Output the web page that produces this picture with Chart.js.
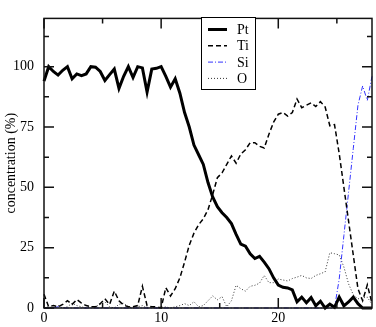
<!DOCTYPE html>
<html>
<head>
<meta charset="utf-8">
<script src="https://cdn.jsdelivr.net/npm/chart.js@4.4.1/dist/chart.umd.min.js"></script>
<style>
  html, body { margin: 0; padding: 0; background: #fff; }
</style>
</head>
<body>
<canvas id="concentration" width="376" height="327"></canvas>
<script>
// depth positions shared by all four profiles
var depth = [0, 0.4, 0.8, 1.2, 1.6, 2, 2.4, 2.8, 3.2, 3.6,
  4, 4.4, 4.8, 5.2, 5.6, 6, 6.4, 6.8, 7.2, 7.6,
  8, 8.4, 8.8, 9.2, 9.6, 10, 10.4, 10.8, 11.2, 11.6,
  12, 12.4, 12.8, 13.2, 13.6, 14, 14.4, 14.8, 15.2, 15.6,
  16, 16.4, 16.8, 17.2, 17.6, 18, 18.4, 18.8, 19.2, 19.6,
  20, 20.4, 20.8, 21.2, 21.6, 22, 22.4, 22.8, 23.2, 23.6,
  24, 24.4, 24.8, 25.2, 25.6, 26, 26.4, 26.8, 27.2, 27.6, 28];

var pt = [94, 100, 98, 96.5, 98.5, 100, 95, 97, 96.3, 97,
  100, 99.8, 98, 94.3, 96.7, 99, 91, 96, 100, 95.5,
  100, 99.5, 89.5, 99, 99.3, 100, 96, 91.5, 95, 89,
  81, 75, 67.5, 63.5, 59.5, 52, 46, 42, 39.5, 37.5,
  35, 30.5, 26.5, 25.6, 22.5, 20.5, 21.4, 19, 16.3, 12.5,
  9.5, 8.6, 8.3, 7.5, 2.6, 4.5, 2.2, 4.3, 0.9, 2.8,
  0, 1.6, 0.3, 4.5, 0.9, 2.5, 4.5, 1.8, 0, 0, 0];

var ti = [5.7, 0.5, 1, 0.5, 1.5, 3, 1.5, 3.5, 2, 1,
  0.5, 0.5, 1.8, 3.8, 1.5, 7, 3, 1.2, 0.5, 0.5,
  1, 9, 1, 0.5, 0.5, 0, 8.4, 5, 8, 12.5,
  19, 26, 31, 34.5, 37, 40.7, 47, 54, 56, 59.5,
  63, 60, 63.8, 65.6, 68.5, 68.5, 67, 66.3, 72, 77,
  80.3, 81, 79.5, 81, 86.6, 83, 84, 85, 83.5, 85.5,
  83.3, 75.5, 76, 64, 50, 36, 22, 8, 3, 9.6, 2];

var si = [0, 0, 0, 0.5, 0, 0, 0, 0, 0, 0,
  0, 0, 0, 0, 0, 0, 0, 0, 0, 0,
  0, 0, 0, 0, 0, 0, 0, 0, 0, 0,
  0, 0, 0, 0, 0, 0, 0, 0, 0, 0,
  0, 0, 0, 0, 0, 0, 0, 0, 0, 0,
  0, 0, 0, 0, 0, 0, 0, 0, 0, 0,
  0, 0, 0, 12, 30, 48, 66, 84, 92, 86, 96];

var ox = [0, 0.5, 0, 1, 0, 0.5, 2, 1, 0.5, 0,
  0.5, 0.5, 1.5, 2.5, 0.5, 0, 1.5, 2, 0.5, 0,
  0.5, 1, 0, 0.5, 0, 0, 0.5, 0, 0.5, 1,
  1.8, 1, 2.6, 0.5, 1, 3, 5, 3.4, 4.7, 0.5,
  3, 9.4, 8, 7, 9, 9.4, 10.3, 13.5, 10.5, 10.5,
  12, 11.6, 11.2, 12.2, 12.8, 13.5, 12.5, 12.2, 13.5, 14.2,
  15, 22.9, 22.5, 22, 17, 10, 5.5, 3.8, 4.2, 4.5, 1.5];

var xMajor = [0, 10, 20];
var xMinor = [5, 15, 25];
var yMajor = [0, 25, 50, 75, 100];
var yMinor = [12.5, 37.5, 62.5, 87.5, 112.5];

var serif = "'Liberation Serif', 'DejaVu Serif', serif";

function pairs(ys) {
  return depth.map(function(d, i) { return {x: d, y: ys[i]}; });
}

// inward ticks on all four sides plus the frame
var frameTicks = {
  id: 'frameTicks',
  afterDatasetsDraw: function(chart) {
    var ctx = chart.ctx, a = chart.chartArea;
    var sx = chart.scales.x, sy = chart.scales.y;
    ctx.save();
    ctx.strokeStyle = '#111';
    ctx.lineWidth = 1.5;
    function tickX(v, len) {
      var p = sx.getPixelForValue(v);
      ctx.beginPath();
      ctx.moveTo(p, a.bottom); ctx.lineTo(p, a.bottom - len);
      ctx.moveTo(p, a.top); ctx.lineTo(p, a.top + len);
      ctx.stroke();
    }
    function tickY(v, len) {
      var p = sy.getPixelForValue(v);
      ctx.beginPath();
      ctx.moveTo(a.left, p); ctx.lineTo(a.left + len, p);
      ctx.moveTo(a.right, p); ctx.lineTo(a.right - len, p);
      ctx.stroke();
    }
    xMajor.forEach(function(v) { tickX(v, 10); });
    xMinor.forEach(function(v) { tickX(v, 5); });
    yMajor.forEach(function(v) { tickY(v, 10); });
    yMinor.forEach(function(v) { tickY(v, 5); });
    ctx.strokeRect(a.left, a.top, a.right - a.left, a.bottom - a.top);
    ctx.restore();
  }
};

// boxed legend inside the plot
var boxLegend = {
  id: 'boxLegend',
  afterDraw: function(chart) {
    var ctx = chart.ctx;
    var bx = 201, by = 17, bw = 54, bh = 72;
    ctx.save();
    ctx.fillStyle = '#fff';
    ctx.fillRect(bx, by, bw, bh);
    ctx.strokeStyle = '#000';
    ctx.lineWidth = 1;
    ctx.strokeRect(bx + 0.5, by + 0.5, bw, bh);
    ctx.font = '14px ' + serif;
    ctx.textBaseline = 'middle';
    chart.data.datasets.forEach(function(ds, i) {
      var y = by + 12.5 + i * 16.3;
      ctx.save();
      ctx.strokeStyle = ds.borderColor;
      ctx.lineWidth = ds.borderWidth;
      ctx.setLineDash(ds.borderDash || []);
      ctx.beginPath();
      ctx.moveTo(208, y); ctx.lineTo(227, y);
      ctx.stroke();
      ctx.restore();
      ctx.fillStyle = '#000';
      ctx.fillText(ds.label, 237, y + 1);
    });
    ctx.restore();
  }
};

new Chart('concentration', {
  type: 'line',
  data: {
    datasets: [
      { label: 'Pt', data: pairs(pt), borderColor: '#000', borderWidth: 3 },
      { label: 'Ti', data: pairs(ti), borderColor: '#000', borderWidth: 1.5, borderDash: [5, 3] },
      { label: 'Si', data: pairs(si), borderColor: '#3333ff', borderWidth: 1, borderDash: [5, 2, 1, 2] },
      { label: 'O', data: pairs(ox), borderColor: '#333', borderWidth: 1, borderDash: [1, 2] }
    ]
  },
  options: {
    responsive: false,
    animation: false,
    devicePixelRatio: 1,
    layout: { padding: { top: 2, right: 4, left: 0, bottom: 0 } },
    elements: {
      point: { radius: 0 },
      line: { tension: 0, fill: false, borderJoinStyle: 'miter' }
    },
    datasets: { line: { clip: 3 } },
    plugins: { legend: { display: false }, tooltip: { enabled: false } },
    scales: {
      x: {
        type: 'linear', min: 0, max: 28,
        grid: { display: false, drawTicks: false },
        border: { display: false },
        afterFit: function(s) { s.height = 19; },
        ticks: {
          stepSize: 5, padding: 2, color: '#000', maxRotation: 0, autoSkip: false,
          font: { family: serif, size: 14 },
          callback: function(v) { return v % 10 === 0 ? v : ''; }
        }
      },
      y: {
        min: 0, max: 120,
        grid: { display: false, drawTicks: false },
        border: { display: false },
        afterFit: function(s) { s.width = 44; },
        title: {
          display: true, text: 'concentration (%)', color: '#000',
          font: { family: serif, size: 14 }, padding: { top: 3, bottom: 0 }
        },
        ticks: {
          stepSize: 25, padding: 10, color: '#000',
          font: { family: serif, size: 14 },
          callback: function(v) { return v <= 100 ? v : ''; }
        }
      }
    }
  },
  plugins: [frameTicks, boxLegend]
});
</script>
</body>
</html>
